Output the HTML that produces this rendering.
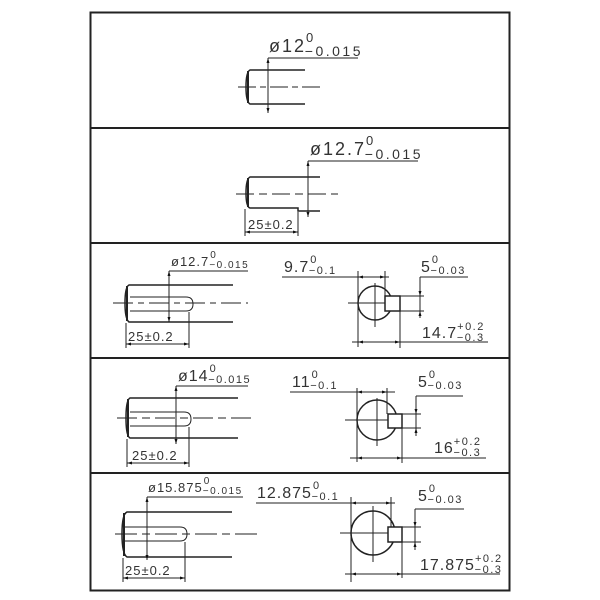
<!DOCTYPE html>
<html><head><meta charset="utf-8"><style>
html,body{margin:0;padding:0;background:#fff;}
svg{display:block;}
text{font-family:"Liberation Sans",sans-serif;fill:#333;letter-spacing:1px;}
tspan{letter-spacing:1.5px;}
.m{font-size:16px;}
.sm{font-size:13px;}
</style></head><body>
<svg width="600" height="600" viewBox="0 0 600 600">
<defs>
<marker id="a" viewBox="0 0 10 10" refX="10" refY="5" markerWidth="5" markerHeight="5" orient="auto-start-reverse"><path d="M0,2 L10,5 L0,8z" fill="#111"/></marker>
</defs>
<g fill="none" stroke="#222">
<rect x="90.5" y="12.5" width="419" height="578" stroke-width="2"/>
<line x1="90" y1="128" x2="510" y2="128" stroke-width="2"/>
<line x1="90" y1="243" x2="510" y2="243" stroke-width="2"/>
<line x1="90" y1="358" x2="510" y2="358" stroke-width="2"/>
<line x1="90" y1="473" x2="510" y2="473" stroke-width="2"/>
</g>
<g fill="none" stroke="#222" stroke-width="1">
<path d="M305,70 H250 Q246,72 246,87 Q246,102 250,104 H305" stroke-width="1.5"/>
<line x1="248" y1="71" x2="248" y2="103" stroke-width="2"/>
<line x1="238" y1="87" x2="322" y2="87" stroke-dasharray="18,4,6,4"/>
<line x1="268" y1="58" x2="268" y2="113" marker-start="url(#a)" marker-end="url(#a)"/>
<line x1="268" y1="58" x2="358" y2="58"/>
<path d="M320,177 H250 Q246,179 246,193 Q246,207 250,208 H298 V211 H320" stroke-width="1.5"/>
<line x1="248" y1="178" x2="248" y2="207" stroke-width="2"/>
<line x1="236" y1="194" x2="338" y2="194" stroke-dasharray="18,5,8,5"/>
<line x1="308" y1="161" x2="308" y2="217" marker-start="url(#a)" marker-end="url(#a)"/>
<line x1="308" y1="161" x2="418" y2="161"/>
<line x1="245" y1="209" x2="245" y2="236"/>
<line x1="298" y1="212" x2="298" y2="236"/>
<line x1="245" y1="232" x2="298" y2="232" marker-start="url(#a)" marker-end="url(#a)"/>
<path d="M233,285 H129 Q125,287 125,303 Q125,319 129,322 H233" stroke-width="1.5"/>
<line x1="127" y1="286" x2="127" y2="321" stroke-width="2"/>
<path d="M130,297 H186 Q193,297 193,304 Q193,311 186,311 H130"/>
<line x1="113" y1="303" x2="248" y2="303" stroke-dasharray="20,5,6,5"/>
<line x1="169" y1="271" x2="169" y2="322" marker-start="url(#a)" marker-end="url(#a)"/>
<line x1="169" y1="271" x2="248" y2="271"/>
<line x1="126" y1="323" x2="126" y2="348"/>
<line x1="189" y1="312" x2="189" y2="348"/>
<line x1="126" y1="344" x2="189" y2="344" marker-start="url(#a)" marker-end="url(#a)"/>
<circle cx="375" cy="303" r="17" stroke-width="1.5"/>
<rect x="385" y="296" width="15" height="15" stroke-width="1.5" fill="#fff"/>
<line x1="348" y1="303" x2="385" y2="303"/>
<line x1="375" y1="283" x2="375" y2="327"/>
<line x1="358" y1="271" x2="358" y2="347"/>
<line x1="385" y1="271" x2="385" y2="296"/>
<line x1="282" y1="277" x2="389" y2="277"/>
<line x1="358" y1="277" x2="385" y2="277" marker-start="url(#a)" marker-end="url(#a)"/>
<line x1="400" y1="296" x2="424" y2="296"/><line x1="400" y1="311" x2="424" y2="311"/>
<line x1="420" y1="277" x2="420" y2="318"/>
<line x1="420" y1="277" x2="468" y2="277"/>
<line x1="420" y1="288" x2="420" y2="296" marker-end="url(#a)"/>
<line x1="420" y1="318" x2="420" y2="311" marker-end="url(#a)"/>
<line x1="400" y1="311" x2="400" y2="348"/>
<line x1="352" y1="342" x2="488" y2="342"/>
<line x1="358" y1="342" x2="400" y2="342" marker-start="url(#a)" marker-end="url(#a)"/>
<path d="M238,398 H130 Q126,400 126,418 Q126,436 130,438 H238" stroke-width="1.5"/>
<line x1="128" y1="399" x2="128" y2="437" stroke-width="2"/>
<path d="M130,412 H184 Q191,412 191,419 Q191,426 184,426 H130"/>
<line x1="117" y1="418" x2="254" y2="418" stroke-dasharray="20,5,8,5"/>
<line x1="176" y1="386" x2="176" y2="444" marker-start="url(#a)" marker-end="url(#a)"/>
<line x1="176" y1="386" x2="248" y2="386"/>
<line x1="127" y1="439" x2="127" y2="467"/>
<line x1="189" y1="427" x2="189" y2="467"/>
<line x1="127" y1="463" x2="189" y2="463" marker-start="url(#a)" marker-end="url(#a)"/>
<circle cx="377" cy="420" r="20" stroke-width="1.5"/>
<rect x="388" y="414" width="14" height="14" stroke-width="1.5" fill="#fff"/>
<line x1="345" y1="420" x2="388" y2="420"/>
<line x1="377" y1="398" x2="377" y2="446"/>
<line x1="357" y1="388" x2="357" y2="462"/>
<line x1="387" y1="388" x2="387" y2="414"/>
<line x1="290" y1="392" x2="395" y2="392"/>
<line x1="357" y1="392" x2="387" y2="392" marker-start="url(#a)" marker-end="url(#a)"/>
<line x1="402" y1="414" x2="421" y2="414"/><line x1="402" y1="428" x2="421" y2="428"/>
<line x1="416" y1="396" x2="416" y2="435"/>
<line x1="416" y1="396" x2="463" y2="396"/>
<line x1="416" y1="406" x2="416" y2="414" marker-end="url(#a)"/>
<line x1="416" y1="436" x2="416" y2="428" marker-end="url(#a)"/>
<line x1="402" y1="428" x2="402" y2="463"/>
<line x1="350" y1="458" x2="486" y2="458"/>
<line x1="357" y1="458" x2="402" y2="458" marker-start="url(#a)" marker-end="url(#a)"/>
<path d="M232,512 H127 Q122,514 122,534 Q122,554 127,557 H232" stroke-width="1.5"/>
<line x1="124" y1="513" x2="124" y2="556" stroke-width="2"/>
<path d="M124,527 H180 Q187,527 187,534 Q187,541 180,541 H124"/>
<line x1="115" y1="534" x2="257" y2="534" stroke-dasharray="22,5,8,5"/>
<line x1="147" y1="497" x2="147" y2="560" marker-start="url(#a)" marker-end="url(#a)"/>
<line x1="147" y1="497" x2="243" y2="497"/>
<line x1="123" y1="558" x2="123" y2="582"/>
<line x1="185" y1="542" x2="185" y2="582"/>
<line x1="123" y1="578" x2="185" y2="578" marker-start="url(#a)" marker-end="url(#a)"/>
<circle cx="373" cy="533" r="22" stroke-width="1.5"/>
<rect x="388" y="527" width="14" height="15" stroke-width="1.5" fill="#fff"/>
<line x1="340" y1="533" x2="388" y2="533"/>
<line x1="373" y1="506" x2="373" y2="562"/>
<line x1="351" y1="497" x2="351" y2="582"/>
<line x1="391" y1="497" x2="391" y2="527"/>
<line x1="256" y1="503" x2="395" y2="503"/>
<line x1="351" y1="503" x2="391" y2="503" marker-start="url(#a)" marker-end="url(#a)"/>
<line x1="402" y1="527" x2="421" y2="527"/><line x1="402" y1="542" x2="421" y2="542"/>
<line x1="415" y1="509" x2="415" y2="550"/>
<line x1="415" y1="509" x2="464" y2="509"/>
<line x1="415" y1="519" x2="415" y2="527" marker-end="url(#a)"/>
<line x1="415" y1="550" x2="415" y2="542" marker-end="url(#a)"/>
<line x1="402" y1="542" x2="402" y2="578"/>
<line x1="345" y1="574" x2="500" y2="574"/>
<line x1="351" y1="574" x2="402" y2="574" marker-start="url(#a)" marker-end="url(#a)"/>
</g>
<g>
<text x="269" y="52" style="font-size:18px;letter-spacing:2px">ø12<tspan dx="0" dy="-10" style="font-size:13px">0</tspan><tspan dx="-10" dy="14" style="font-size:14px;letter-spacing:2.5px">−0.015</tspan></text>
<text x="310" y="155" style="font-size:18px;letter-spacing:2px">ø12.7<tspan dx="0" dy="-10" style="font-size:13px">0</tspan><tspan dx="-10" dy="14" style="font-size:14px;letter-spacing:2.5px">−0.015</tspan></text>
<text x="248" y="229" style="font-size:13px">25±0.2</text>

<text x="171" y="266" style="font-size:13px">ø12.7<tspan dx="1" dy="-8" style="font-size:10px">0</tspan><tspan dx="-8" dy="10" style="font-size:10px">−0.015</tspan></text>
<text class="sm" x="128" y="341">25±0.2</text>
<text class="m" x="284" y="272">9.7<tspan dx="1" dy="-9" style="font-size:11px">0</tspan><tspan dx="-9" dy="11" style="font-size:11px">−0.1</tspan></text>
<text class="m" x="421" y="272">5<tspan dx="1" dy="-9" style="font-size:11px">0</tspan><tspan dx="-9" dy="11" style="font-size:11px">−0.03</tspan></text>
<text class="m" x="422" y="338">14.7<tspan dx="0" dy="-8" style="font-size:11px">+0.2</tspan><tspan dx="-28" dy="11" style="font-size:11px">−0.3</tspan></text>

<text class="m" x="178" y="381">ø14<tspan dx="1" dy="-9" style="font-size:11px">0</tspan><tspan dx="-9" dy="11" style="font-size:11px">−0.015</tspan></text>
<text class="sm" x="132" y="460">25±0.2</text>
<text class="m" x="292" y="387">11<tspan dx="1" dy="-9" style="font-size:11px">0</tspan><tspan dx="-9" dy="11" style="font-size:11px">−0.1</tspan></text>
<text class="m" x="418" y="387">5<tspan dx="1" dy="-9" style="font-size:11px">0</tspan><tspan dx="-9" dy="11" style="font-size:11px">−0.03</tspan></text>
<text class="m" x="434" y="453">16<tspan dx="0" dy="-8" style="font-size:11px">+0.2</tspan><tspan dx="-28" dy="11" style="font-size:11px">−0.3</tspan></text>

<text class="sm" x="148" y="492">ø15.875<tspan dx="1" dy="-8" style="font-size:10px">0</tspan><tspan dx="-8" dy="10" style="font-size:10px">−0.015</tspan></text>
<text class="sm" x="125" y="575">25±0.2</text>
<text class="m" x="257" y="498">12.875<tspan dx="1" dy="-9" style="font-size:11px">0</tspan><tspan dx="-9" dy="11" style="font-size:11px">−0.1</tspan></text>
<text class="m" x="418" y="501">5<tspan dx="1" dy="-9" style="font-size:11px">0</tspan><tspan dx="-9" dy="11" style="font-size:11px">−0.03</tspan></text>
<text class="m" x="420" y="570">17.875<tspan dx="0" dy="-8" style="font-size:11px">+0.2</tspan><tspan dx="-28" dy="11" style="font-size:11px">−0.3</tspan></text>
</g>
</svg>
</body></html>
